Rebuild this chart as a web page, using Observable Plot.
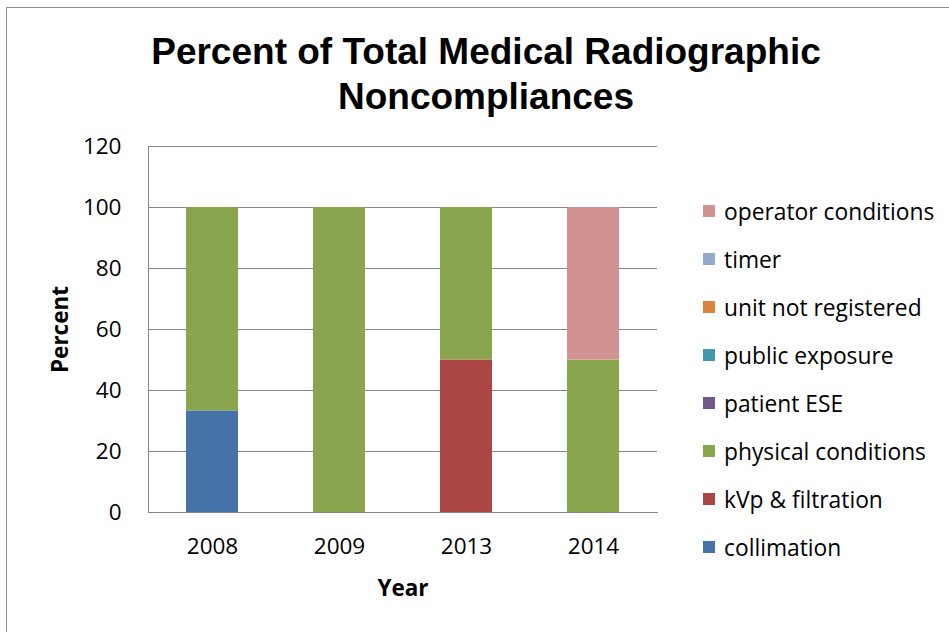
<!DOCTYPE html>
<html>
<head>
<meta charset="utf-8">
<script src="https://cdn.jsdelivr.net/npm/d3@7"></script>
<script src="https://cdn.jsdelivr.net/npm/@observablehq/plot@0.6"></script>
<style>
  html, body { margin: 0; padding: 0; background: #fff; }
  #wrap { position: relative; width: 949px; height: 632px; overflow: hidden; }
  #border { position: absolute; left: 6px; top: 7px; width: 960px; height: 640px; border: 1px solid #8c8c8c; box-sizing: border-box; }
  #title { position: absolute; left: 100px; width: 772px; top: 29px; text-align: center;
    font-family: "Liberation Sans", Arial, sans-serif; font-weight: bold; font-size: 37px; line-height: 45px; color: #000; }
  #legend { position: absolute; left: 703px; top: 187px; font-family: "Open Sans", sans-serif; font-size: 22.8px; color: #000; }
  .item { height: 48px; display: flex; align-items: center; white-space: nowrap; }
  .sw { width: 12px; height: 12px; margin-right: 9px; flex: none; }
  svg { position: absolute; left: 0; top: 0; }
</style>
</head>
<body>
<div id="wrap">
  <div id="border"></div>
  <div id="title"></div>
  <div id="legend"></div>
</div>
<script>
const titleText = ["Percent of Total Medical Radiographic", "Noncompliances"];
const years = ["2008", "2009", "2013", "2014"];
const categories = ["collimation", "kVp & filtration", "physical conditions", "patient ESE",
  "public exposure", "unit not registered", "timer", "operator conditions"];
const colors = ["#4572A7", "#AA4643", "#89A54E", "#71588F", "#4198AF", "#DB843D", "#93A9CF", "#D19392"];
// values per category, one per year
const collimation        = [33.3, 0, 0, 0];
const kvpFiltration      = [0, 0, 50, 0];
const physicalConditions = [66.7, 100, 50, 50];
const patientESE         = [0, 0, 0, 0];
const publicExposure     = [0, 0, 0, 0];
const unitNotRegistered  = [0, 0, 0, 0];
const timer              = [0, 0, 0, 0];
const operatorConditions = [0, 0, 0, 50];
const yTicks = [0, 20, 40, 60, 80, 100, 120];

const series = [collimation, kvpFiltration, physicalConditions, patientESE,
  publicExposure, unitNotRegistered, timer, operatorConditions];
const data = [];
categories.forEach((c, i) => years.forEach((y, j) => data.push({year: y, category: c, value: series[i][j]})));

document.getElementById("title").innerHTML = titleText.join("<br>");
const leg = document.getElementById("legend");
categories.slice().reverse().forEach((c) => {
  const i = categories.indexOf(c);
  const d = document.createElement("div");
  d.className = "item";
  d.innerHTML = `<div class="sw" style="background:${colors[i]}"></div><span>${c.replace("&", "&amp;")}</span>`;
  leg.appendChild(d);
});

const font = "'Open Sans', sans-serif";
const fs = 22.5;
const chart = Plot.plot({
  width: 949, height: 632,
  marginLeft: 148, marginRight: 292, marginTop: 146, marginBottom: 120,
  style: {fontFamily: font, fontSize: fs + "px", color: "#000", background: "transparent"},
  x: {domain: years, paddingInner: 0.59, paddingOuter: 0.2835, label: null},
  y: {domain: [0, 120], label: null},
  color: {domain: categories, range: colors},
  marks: [
    Plot.gridY(yTicks, {stroke: "#868686", strokeOpacity: 1, strokeWidth: 1}),
    Plot.barY(data.filter(d => d.value > 0), {x: "year", y: "value", fill: "category"}),
    Plot.frame({anchor: "left", stroke: "#868686"}),
    Plot.frame({anchor: "bottom", stroke: "#868686"}),
    Plot.axisY(yTicks, {tickSize: 0, tickPadding: 27, fontSize: fs, label: null}),
    Plot.axisX({tickSize: 0, tickPadding: 26, fontSize: fs, label: null}),
    Plot.text(["Percent"], {frameAnchor: "left", dx: -88, rotate: -90, textAnchor: "middle", lineAnchor: "middle", fontWeight: "bold", fontSize: fs}),
    Plot.text(["Year"], {frameAnchor: "bottom", dy: 83, fontWeight: "bold", fontSize: fs})
  ]
});
document.getElementById("wrap").insertBefore(chart, document.getElementById("title"));
</script>
</body>
</html>
